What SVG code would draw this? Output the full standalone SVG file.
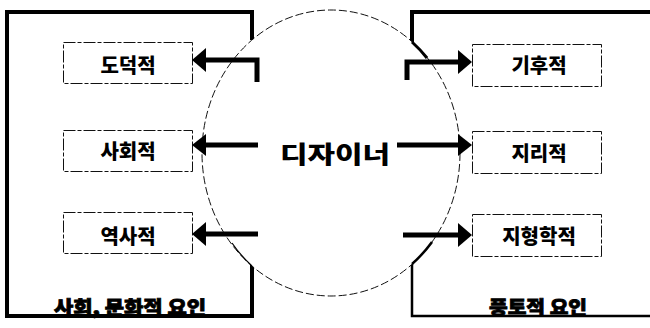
<svg xmlns="http://www.w3.org/2000/svg" width="650" height="328" viewBox="0 0 650 328">
<style>
.frame{fill:none;stroke:#000;stroke-width:4;stroke-linejoin:miter}
.oval{fill:#fff;stroke:#111;stroke-width:1;stroke-dasharray:8 3}
.box{fill:#fff;stroke:#111;stroke-width:1;stroke-dasharray:12 2 4 2}
.lbl{font-family:"Noto Sans CJK KR","Noto Sans",sans-serif;font-weight:900;font-size:20px;fill:#000;text-anchor:middle}
.big{font-family:"Noto Sans CJK KR","Noto Sans",sans-serif;font-weight:900;font-size:24px;fill:#000;text-anchor:middle}
.cap{font-family:"Noto Sans CJK KR","Noto Sans",sans-serif;font-weight:900;font-size:18px;fill:#000;stroke:#000;stroke-width:0.8;text-anchor:middle}
.ln{fill:none;stroke:#000;stroke-width:5}
.hd{fill:#000}
</style>
<g id="frame-left">
<path class="frame" d="M252,40 V12 H7 V316 H252 V262"/>
</g>
<g id="frame-right">
<path class="frame" d="M412,42 V12 H652"/>
<path fill="none" stroke="#000" stroke-width="2.5" d="M412,264 V316 H652"/>
</g>
<g id="designer">
<ellipse class="oval" cx="331" cy="153" rx="129" ry="143"/>
<path fill="none" stroke="#000" stroke-width="3" d="M412,42 A129 143 0 0 1 427,58"/>
<path fill="none" stroke="#000" stroke-width="2.5" d="M412,264 A129 143 0 0 0 432,242"/>
<path fill="none" stroke="#000" stroke-width="1.2" d="M252,266 A129 143 0 0 1 232,243"/>
<text class="big" x="335" y="163" textLength="110" lengthAdjust="spacingAndGlyphs">디자이너</text>
</g>
<g id="n-dodeok"><rect class="box" x="63.5" y="42.5" width="129" height="41"/><text class="lbl" x="128" y="73">도덕적</text></g>
<g id="n-sahoe"><rect class="box" x="63.5" y="130.5" width="129" height="41"/><text class="lbl" x="128" y="159">사회적</text></g>
<g id="n-yeoksa"><rect class="box" x="63.5" y="212.5" width="129" height="41"/><text class="lbl" x="128" y="244">역사적</text></g>
<g id="n-gihu"><rect class="box" x="472.5" y="44.5" width="129" height="42"/><text class="lbl" x="539" y="73">기후적</text></g>
<g id="n-jiri"><rect class="box" x="472.5" y="131.5" width="129" height="42"/><text class="lbl" x="539" y="161">지리적</text></g>
<g id="n-jihyeong"><rect class="box" x="472.5" y="214.5" width="129" height="42"/><text class="lbl" x="539" y="244">지형학적</text></g>
<g id="connectors">
<path class="ln" d="M257,82 V60 H204"/><polygon class="hd" points="192,60 206,48 206,72"/>
<path class="ln" d="M258,145 H204" stroke-width="4"/><polygon class="hd" points="192,145 206,134 206,156"/>
<path class="ln" d="M258,234 H204"/><polygon class="hd" points="192,234 206,222 206,246"/>
<path class="ln" d="M407,80 V62 H460"/><polygon class="hd" points="472,62 458,50 458,74"/>
<path class="ln" d="M397,145 H460" stroke-width="4"/><polygon class="hd" points="472,145 458,134 458,156"/>
<path class="ln" d="M403,235 H460"/><polygon class="hd" points="472,235 458,223 458,247"/>
</g>
<g id="captions">
<text class="cap" x="130" y="314" textLength="152" lengthAdjust="spacingAndGlyphs">사회, 문화적 요인</text>
<text class="cap" x="538" y="314" textLength="98" lengthAdjust="spacingAndGlyphs">풍토적 요인</text>
</g>
</svg>
